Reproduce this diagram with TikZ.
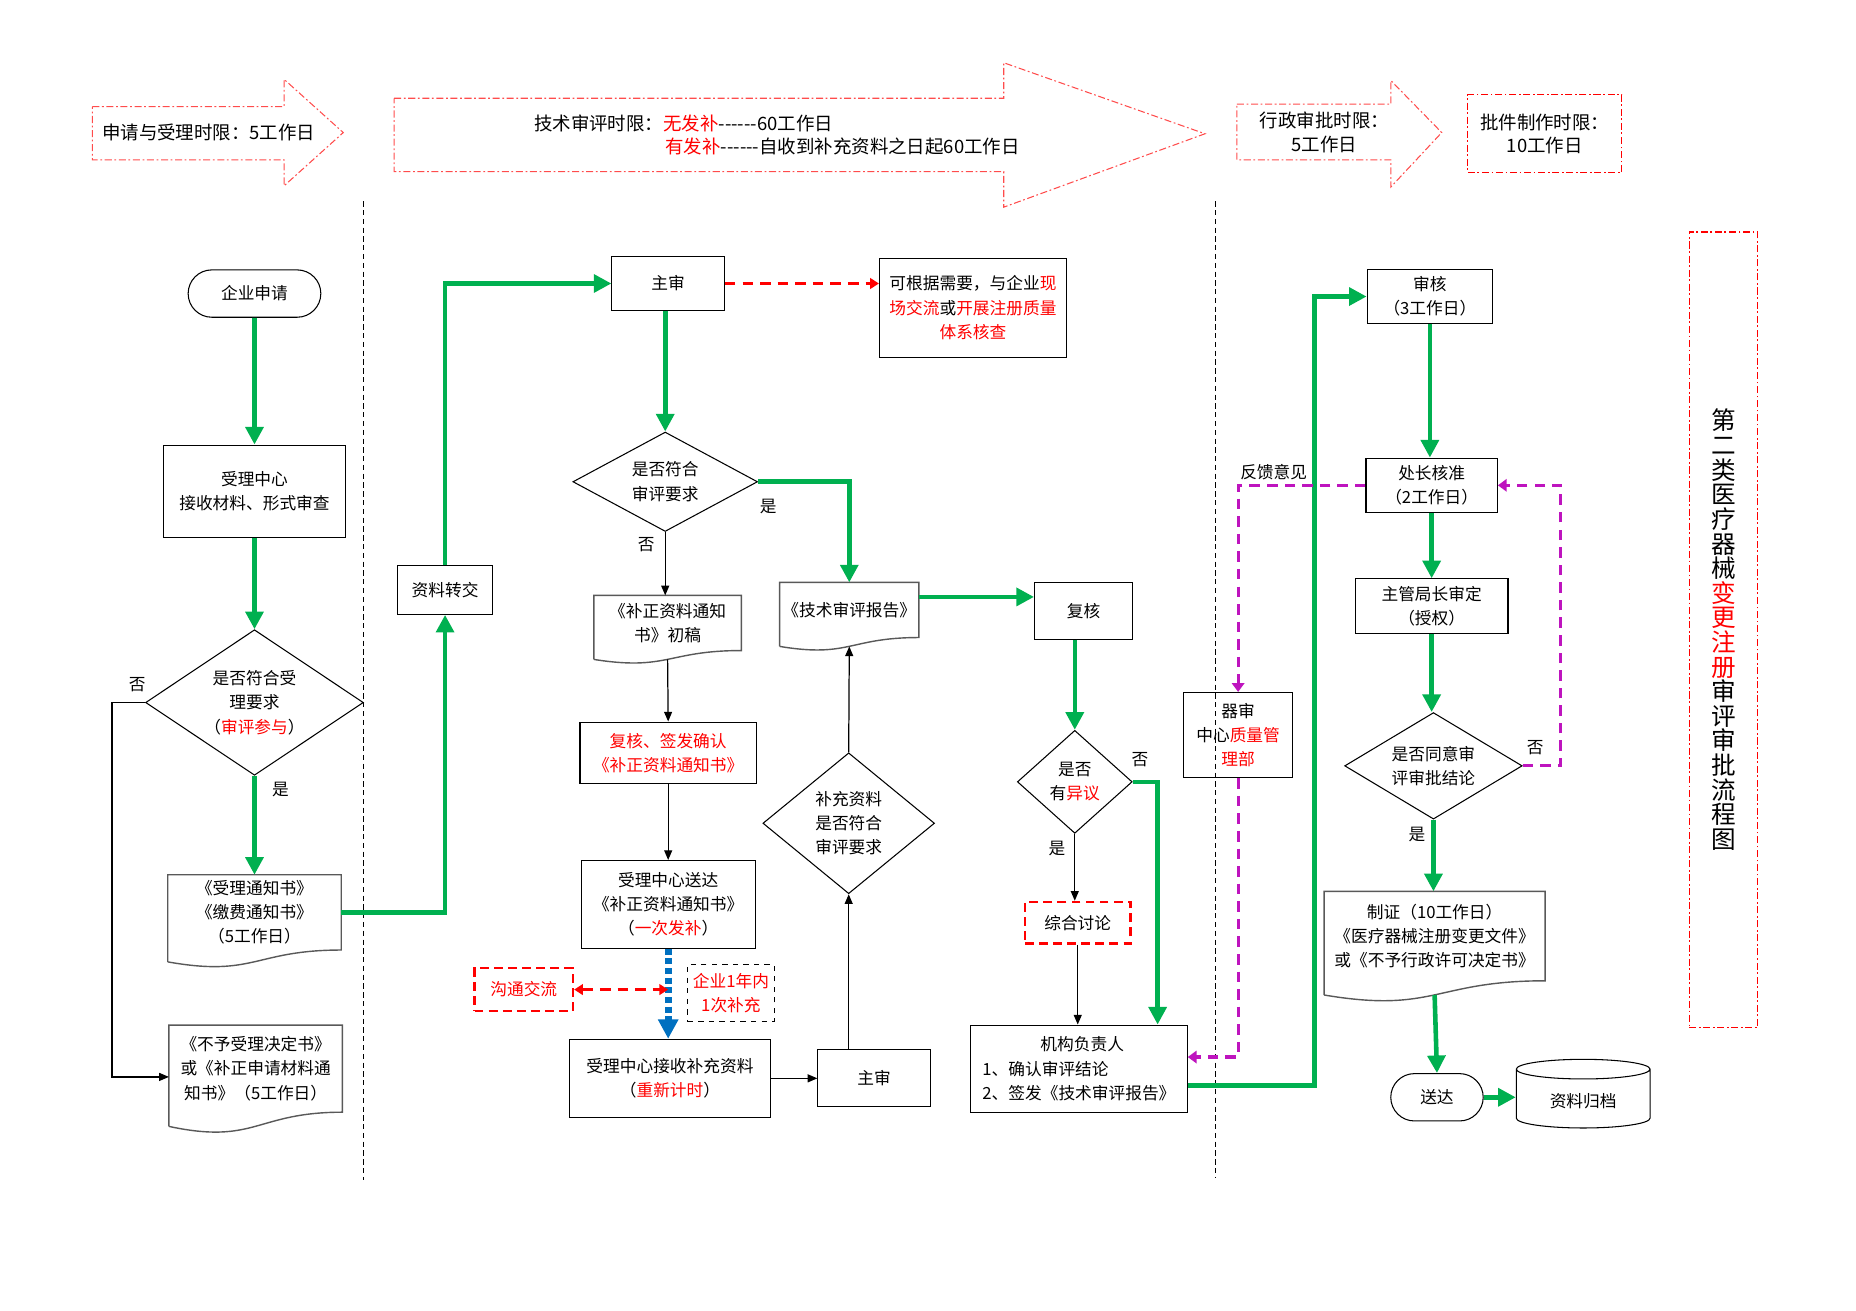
\documentclass[tikz,border=0pt]{standalone}
\usepackage{fontspec}
\setmainfont{Noto Sans CJK SC}
\usetikzlibrary{arrows.meta, positioning, shapes.geometric, shapes.misc}
\definecolor{flowgreen}{RGB}{0,176,80}
\definecolor{flowmag}{RGB}{190,20,190}
\definecolor{flowblue}{RGB}{0,112,192}
\def\unitpx{0.023673cm}
% document shape: node is the upper part, the wave is drawn under it
\newcommand{\docwave}[2]{%
  \draw[docline] ([yshift=-#2*\unitpx]#1.south west) -- (#1.north west) -- (#1.north east) -- (#1.south east)
    .. controls (#1.south) and ([yshift=-2.31*#2*\unitpx]#1.south) .. ([yshift=-#2*\unitpx]#1.south west);}

\begin{document}
\begin{tikzpicture}[x=\unitpx, y=-\unitpx,
    every node/.style={font=\fontsize{9.5}{13.8}\selectfont},
    sz/.style 2 args={minimum width=#1*\unitpx, minimum height=#2*\unitpx},
    box/.style={draw, line width=0.6pt, align=center, inner sep=1pt},
    dia/.style={diamond, draw, line width=0.6pt, align=center, inner sep=-6pt},
    term/.style={rounded rectangle, draw, line width=0.6pt},
    docbox/.style={align=center, inner sep=1pt, anchor=north},
    docline/.style={draw=black!65, line width=0.8pt},
    cyl/.style={cylinder, shape border rotate=90, aspect=0.25, draw, line width=0.6pt},
    rdbox/.style={draw=red, line width=1.4pt, dash pattern=on 5pt off 3pt, align=center},
    hdr/.style={draw=red!70, line width=0.6pt, dash pattern=on 4pt off 1.5pt on 1pt off 1.5pt},
    hdrbox/.style={hdr, draw=red, align=center},
    divline/.style={line width=0.5pt, dash pattern=on 3pt off 2pt},
    gline/.style={draw=flowgreen, line width=2.6pt},
    garrow/.style={gline, -{Triangle[width=10pt,length=10pt]}},
    barrow/.style={line width=0.7pt, -{Triangle[width=4.5pt,length=5.5pt]}},
    parrow/.style={draw=flowmag, line width=1.8pt, dash pattern=on 6pt off 4pt, -{Triangle[width=7pt,length=5pt]}},
    rarrow/.style={draw=red, line width=1.3pt, dash pattern=on 6pt off 4pt, -{Triangle[width=6pt,length=5pt]}},
    bluearrow/.style={draw=flowblue, line width=4pt, dash pattern=on 3.5pt off 2pt, -{Triangle[width=11pt,length=11pt]}},
    hdrtext/.style={font=\fontsize{10.5}{13.4}\selectfont},
]
  \useasboundingbox (0,0) rectangle (1568,1107);

  % time limits on top
  \draw[hdr] (78,90) -- (240,90) -- (240,67) -- (290,112) -- (240,157) -- (240,135) -- (78,135) -- cycle;
  \node[hdrtext, anchor=west] (limit1) at (81,112) {申请与受理时限：5工作日};
  \draw[hdr] (333,83) -- (848,83) -- (848,53) -- (1018,113) -- (848,175) -- (848,145) -- (333,145) -- cycle;
  \node[hdrtext, anchor=west] (limit2a) at (446,104) {技术审评时限：{\color{red}无发补}-{}-{}-{}-{}-{}-60工作日};
  \node[hdrtext, anchor=west] (limit2b) at (557,124) {{\color{red}有发补}-{}-{}-{}-{}-{}-自收到补充资料之日起60工作日};
  \draw[hdr] (1045,88) -- (1175,88) -- (1175,68) -- (1218,112) -- (1175,158) -- (1175,135) -- (1045,135) -- cycle;
  \node[hdrtext, align=center] (limit3) at (1119,112) {行政审批时限：\\5工作日};
  \node[hdrbox, hdrtext, sz={130}{66}] (limit4) at (1305,113) {批件制作时限：\\10工作日};

  \draw[divline] (307,170) -- (307,997);
  \draw[divline] (1027,170) -- (1027,995);

  \node[hdrbox, sz={58}{672}, font=\fontsize{14}{14}\selectfont] (title) at (1456,532)
    {第\\二\\类\\医\\疗\\器\\械\\{\color{red}变}\\{\color{red}更}\\{\color{red}注}\\{\color{red}册}\\审\\评\\审\\批\\流\\程\\图};

  % acceptance
  \node[term, sz={122}{40}] (apply) at (215,248) {企业申请};
  \node[box, sz={153}{78}] (accept) at (215,415) {受理中心\\接收材料、形式审查};
  \node[dia, sz={184}{123}] (check1) at (215,593.5) {是否符合受\\理要求\\（{\color{red}审评参与}）};
  \node[docbox, sz={146}{63}] (notice) at (215,739) {《受理通知书》\\《缴费通知书》\\（5工作日）};
  \docwave{notice}{10}
  \node[docbox, sz={146}{73}] (refuse) at (216,866) {《不予受理决定书》\\或《补正申请材料通\\知书》（5工作日）};
  \docwave{refuse}{12}
  \node[box, sz={80}{41}] (handover) at (376,498.5) {资料转交};

  % technical review
  \node[box, sz={95}{45}] (lead1) at (564.5,239.5) {主审};
  \node[box, sz={158}{84}] (onsite) at (822,260) {可根据需要，与企业{\color{red}现}\\{\color{red}场交流}或{\color{red}开展注册质量}\\{\color{red}体系核查}};
  \node[dia, sz={156}{84}] (check2) at (562,407) {是否符合\\审评要求};
  \node[docbox, sz={124}{46}] (draft) at (564,503) {《补正资料通知\\书》初稿};
  \docwave{draft}{7.5}
  \node[docbox, sz={117}{46}] (report) at (717.5,492) {《技术审评报告》};
  \docwave{report}{7.5}
  \node[box, sz={83}{48}] (recheck) at (915.5,516) {复核};
  \node[box, sz={149}{52}, text=red] (confirm) at (564.5,636) {复核、签发确认\\《补正资料通知书》};
  \node[box, sz={147}{74}] (deliver) at (564.5,764) {受理中心送达\\《补正资料通知书》\\（{\color{red}一次发补}）};
  \node[rdbox, sz={83}{36}, text=red] (talk) at (442.5,836) {沟通交流};
  \node[box, dashed, line width=0.5pt, sz={73}{48}, text=red] (once) at (617.5,839) {企业1年内\\1次补充};
  \node[box, sz={170}{66}] (receive) at (566,911) {受理中心接收补充资料\\（{\color{red}重新计时}）};
  \node[box, sz={95}{48}] (lead2) at (738.5,911) {主审};
  \node[dia, sz={145}{119}] (check3) at (717,695.5) {补充资料\\是否符合\\审评要求};
  \node[dia, sz={97}{87}] (objection) at (908,660.5) {是否\\有{\color{red}异议}};
  \node[rdbox, sz={89}{35}] (discuss) at (910.5,779.5) {综合讨论};
  \node[box, sz={183}{74}, align=left] (leader) at (911.5,903) {\hspace*{1.16cm}机构负责人\\1、确认审评结论\\2、签发《技术审评报告》};

  % administrative approval
  \node[box, sz={92}{72}] (qadept) at (1046,621) {器审\\中心{\color{red}质量管}\\{\color{red}理部}};
  \node[box, sz={106}{45}] (audit) at (1208,250.5) {审核\\（3工作日）};
  \node[box, sz={111}{46}] (approve) at (1209.5,410) {处长核准\\（2工作日）};
  \node[box, sz={129}{46}] (director) at (1209.5,512) {主管局长审定\\（授权）};
  \node[dia, sz={150}{90}] (agree) at (1211,647) {是否同意审\\评审批结论};
  \node[docbox, sz={186}{75}] (certify) at (1212,753) {制证（10工作日）\\《医疗器械注册变更文件》\\或《不予行政许可决定书》};
  \docwave{certify}{12}
  \node[term, sz={88}{40}] (send) at (1214,927) {送达};
  \node[cyl, sz={113}{58}] (archive) at (1337.5,930) {资料归档};

  % yes / no labels
  \node (no1) at (116,578) {否};
  \node (yes1) at (237,667) {是};
  \node (no2) at (546,460) {否};
  \node (yes2) at (649,428) {是};
  \node (no3) at (963,642) {否};
  \node (yes3) at (893,717) {是};
  \node (no4) at (1297,632) {否};
  \node (yes4) at (1197,705) {是};
  \node (feedback) at (1076,399) {反馈意见};

  % connectors
  \draw[garrow] (apply) -- (accept);
  \draw[garrow] (accept) -- (check1);
  \draw[garrow] (check1) -- (notice);
  \draw[barrow] (check1.west) -- ++(-28,0) |- ([yshift=-7*\unitpx]refuse.west);
  \draw[garrow] (notice.east) -| (handover.south);
  \draw[garrow] (handover.north) |- (lead1.west);
  \draw[rarrow] (lead1.east) -- (lead1.east -| onsite.west);
  \draw[garrow] (lead1.south -| check2.north) -- (check2.north);
  \draw[barrow] (check2.south) -- (check2.south |- draft.north);
  \draw[garrow] (check2.east) -| (report.north);
  \draw[garrow] ([yshift=11*\unitpx]report.east) coordinate (r1) -- (r1 -| recheck.west);
  \draw[barrow] ([yshift=-7.5*\unitpx]draft.south) -- (confirm.north);
  \draw[barrow] (confirm) -- (deliver);
  \draw[bluearrow] (deliver.south) -- (deliver.south |- receive.north);
  \draw[rarrow, {Triangle[width=6pt,length=5pt]}-{Triangle[width=6pt,length=5pt]}] (talk.east) -- (talk.east -| deliver.south);
  \draw[barrow] (receive.east) -- (lead2.west);
  \draw[barrow] (check3.south |- lead2.north) -- (check3.south);
  \draw[barrow] (check3.north) -- ([yshift=-7.5*\unitpx]report.south);
  \draw[garrow] (recheck.south -| objection.north) -- (objection.north);
  \draw[garrow] (objection.east) -| ([xshift=66.5*\unitpx]leader.north);
  \draw[barrow] (objection.south) -- (objection.south |- discuss.north);
  \draw[barrow] (discuss.south) -- (discuss.south |- leader.north);
  \draw[garrow] ([yshift=-14*\unitpx]leader.east) -- ++(107,0) |- (audit.west);
  \draw[garrow] (audit.south) -- (audit.south |- approve.north);
  \draw[garrow] (approve) -- (director);
  \draw[garrow] (director.south) -- (director.south |- agree.north);
  \draw[garrow] (agree.south) -- (agree.south |- certify.north);
  \draw[parrow] (agree.east) -- ++(32,0) |- (approve.east);
  \draw[parrow] (approve.west) -| (qadept.north);
  \draw[parrow] (qadept.south) |- ([yshift=10*\unitpx]leader.east);
  \draw[garrow] ([yshift=-12*\unitpx]certify.south) -- (send.north);
  \draw[garrow] (send.east) -- (send.east -| archive.west);
\end{tikzpicture}
\end{document}
